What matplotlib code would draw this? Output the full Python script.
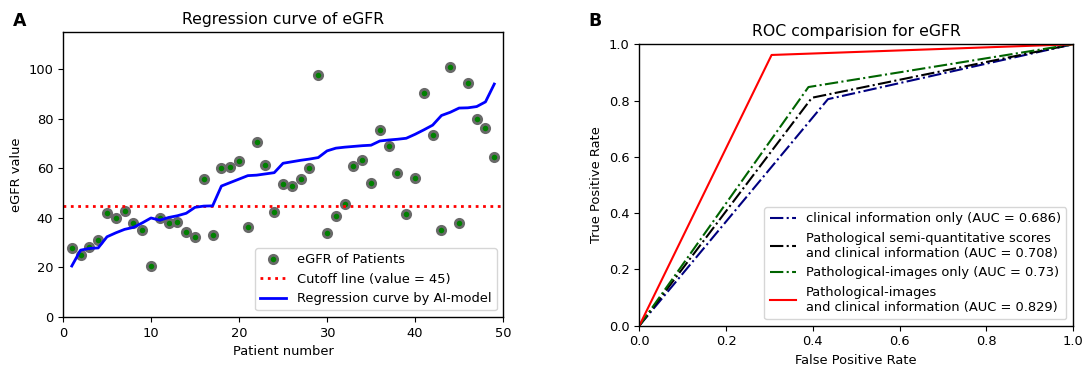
import matplotlib

matplotlib.use("Agg")

import matplotlib.pyplot as plt
import numpy as np

plt.rcParams["font.size"] = 9.4
plt.rcParams["axes.linewidth"] = 1.0

# Panel A: eGFR per patient
patient_no = np.arange(1, 50)
egfr_true = [27.7, 25.0, 28.2, 31.0, 42.0, 40.0, 43.0, 38.0, 35.2, 20.6,
             40.0, 38.0, 38.3, 34.3, 32.4, 55.7, 33.3, 60.3, 60.7, 62.9,
             36.2, 70.7, 61.3, 42.3, 53.6, 53.0, 55.7, 60.1, 97.7, 33.8,
             40.6, 45.5, 61.1, 63.4, 54.1, 75.6, 69.1, 58.3, 41.5, 56.0,
             90.4, 73.4, 35.1, 101.1, 37.8, 94.6, 79.8, 76.3, 64.7]
egfr_pred = [20.6, 27.0, 27.7, 27.9, 32.4, 34.0, 35.4, 36.2, 38.0, 40.0,
             39.1, 40.2, 40.9, 41.9, 44.3, 44.8, 44.9, 52.9, 54.3, 55.7,
             57.1, 57.3, 57.8, 58.3, 62.1, 62.7, 63.3, 63.8, 64.4, 67.1,
             68.2, 68.6, 68.9, 69.2, 69.4, 71.1, 71.5, 71.8, 72.2, 73.8,
             75.6, 77.5, 81.4, 82.7, 84.4, 84.5, 85.0, 86.9, 94.1]
cutoff = 45

# Panel B: single operating point ROC curves
roc_labels = [
    "clinical information only (AUC = 0.686)",
    "Pathological semi-quantitative scores\nand clinical information (AUC = 0.708)",
    "Pathological-images only (AUC = 0.73)",
    "Pathological-images\nand clinical information (AUC = 0.829)",
]
roc_fpr = [[0, 0.435, 1], [0, 0.398, 1], [0, 0.39, 1], [0, 0.305, 1]]
roc_tpr = [[0, 0.805, 1], [0, 0.810, 1], [0, 0.848, 1], [0, 0.962, 1]]
roc_colors = ["navy", "black", "darkgreen", "red"]
roc_styles = ["-.", "-.", "-.", "-"]

fig = plt.figure(figsize=(10.84, 3.65), dpi=100)

ax = fig.add_axes([0.0581, 0.1315, 0.406, 0.780])
ax.plot(patient_no, egfr_true, "o", color="green", markeredgecolor="dimgray",
        markeredgewidth=2, markersize=6, label="eGFR of Patients")
ax.axhline(cutoff, color="red", linestyle=":", linewidth=2,
           label=f"Cutoff line (value = {cutoff})")
ax.plot(patient_no, egfr_pred, color="blue", linewidth=2,
        label="Regression curve by AI-model")
ax.set_xlim(0, 50)
ax.set_ylim(0, 115)
ax.set_xlabel("Patient number")
ax.set_ylabel("eGFR value")
ax.set_title("Regression curve of eGFR", fontsize=11.3)
ax.legend(loc="lower right")

ax2 = fig.add_axes([0.5898, 0.1077, 0.400, 0.771])
for fpr, tpr, c, ls, lab in zip(roc_fpr, roc_tpr, roc_colors, roc_styles, roc_labels):
    ax2.plot(fpr, tpr, color=c, linestyle=ls, linewidth=1.5, label=lab)
ax2.set_xlim(0, 1)
ax2.set_ylim(0, 1)
ax2.set_xlabel("False Positive Rate")
ax2.set_ylabel("True Positive Rate")
ax2.set_title("ROC comparision for eGFR", fontsize=11.3)
ax2.legend(loc="lower right")

fig.text(0.012, 0.93, "A", fontsize=12.5, fontweight="bold")
fig.text(0.543, 0.93, "B", fontsize=12.5, fontweight="bold")

fig.savefig("out.png", dpi=100)
